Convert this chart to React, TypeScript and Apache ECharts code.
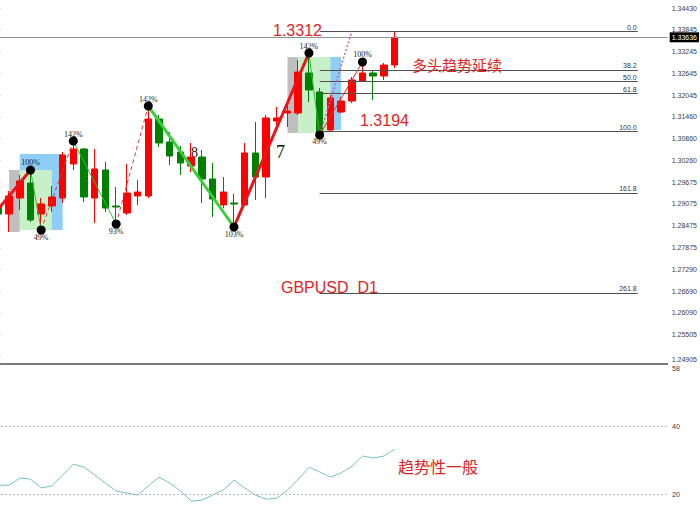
import React, { useEffect, useRef } from "react";
import * as echarts from "echarts";

// ---------- data ----------
const priceTicks = [1.24905, 1.25505, 1.2609, 1.2669, 1.2729, 1.27875, 1.28475, 1.29075, 1.29675, 1.3026, 1.3086, 1.3146, 1.32045, 1.32645, 1.33245, 1.33845, 1.3443];
const adxTicks = [20, 40, 58];
const adxGuides = [20, 40];
const lastPrice = 1.33636;

const candleOpen = [1.29018, 1.28799, 1.29237, 1.29648, 1.28799, 1.29018, 1.29237, 1.30168, 1.30578, 1.29237, 1.30004, 1.29018, 1.28827, 1.29292, 1.29292, 1.31399, 1.3077, 1.30496, 1.30113, 1.30359, 1.29757, 1.29046, 1.291, 1.29046, 1.30469, 1.29812, 1.31344, 1.31564, 1.31564, 1.32659, 1.32139, 1.31099, 1.31591, 1.31892, 1.3244, 1.32659, 1.32577, 1.32878];
const candleClose = [1.28799, 1.29292, 1.29703, 1.28635, 1.29073, 1.29264, 1.30414, 1.30578, 1.29264, 1.30031, 1.28963, 1.28991, 1.29374, 1.29401, 1.31399, 1.30743, 1.30387, 1.30195, 1.30359, 1.29757, 1.2921, 1.29401, 1.29073, 1.30469, 1.29812, 1.31427, 1.31427, 1.31619, 1.32686, 1.32194, 1.31016, 1.31974, 1.31892, 1.32467, 1.32659, 1.32577, 1.32878, 1.33636];
const candleLow = [1.2869, 1.28306, 1.28909, 1.2858, 1.28361, 1.28854, 1.291, 1.30004, 1.29128, 1.28553, 1.28854, 1.28525, 1.28772, 1.29046, 1.29237, 1.30633, 1.3014, 1.29867, 1.29949, 1.291, 1.28717, 1.28963, 1.28443, 1.29018, 1.29182, 1.29237, 1.31099, 1.31181, 1.31509, 1.31865, 1.30962, 1.31071, 1.31564, 1.31837, 1.32412, 1.3192, 1.32467, 1.32796];
const candleHigh = [1.29237, 1.29429, 1.29867, 1.30004, 1.29237, 1.29566, 1.30496, 1.30797, 1.30606, 1.30578, 1.30222, 1.29538, 1.30168, 1.2973, 1.31755, 1.31509, 1.31044, 1.30661, 1.30743, 1.30551, 1.30195, 1.29812, 1.29347, 1.30743, 1.31318, 1.31509, 1.31728, 1.31783, 1.33015, 1.33206, 1.32248, 1.32057, 1.32002, 1.32549, 1.3296, 1.32741, 1.32933, 1.33809];

const adxValues = [22.6, 22.6, 24.7, 24.4, 21.8, 22.4, 25.6, 28.8, 27.9, 25.6, 23.2, 20.9, 20.3, 19.7, 22.4, 25.0, 23.2, 20.9, 17.9, 18.2, 19.7, 21.2, 24.1, 21.8, 19.7, 18.5, 18.8, 21.2, 24.4, 27.9, 26.5, 25.0, 26.2, 28.2, 31.2, 30.6, 31.2, 33.2];

// zigzag pivots
const zigStart = [0, 1.28936];
const pivotIndex = [3, 4, 7, 11, 14, 22, 29, 30, 34];
const pivotPrice = [1.30004, 1.28361, 1.30797, 1.28525, 1.31755, 1.28443, 1.33206, 1.30962, 1.3296];
const pivotLabel = ["100%", "49%", "142%", "93%", "142%", "103%", "142%", "49%", "100%"];
const pivotAbove = [true, false, true, false, true, false, true, false, true];
const legStyle = ["thickRed", "thinGreen", "dashRed", "thinGreen", "dashRed", "thickGreen", "thickRed", "thinGreen", "thinRed"];
const projectionEnd = [33, 1.33789];

// fibonacci
const fibHigh = 1.33789;
const fibLow = 1.31052;
const fibLevels = [0, 38.2, 50, 61.8, 100, 161.8, 261.8];
const fibLabels = ["0.0", "38.2", "50.0", "61.8", "100.0", "161.8", "261.8"];
const fibFrom = 30;
const fibTo = 59.7;

// pattern boxes
const boxX0 = [1, 2, 2, 27, 28, 31];
const boxX1 = [2, 6, 5, 28, 31, 32];
const boxTop = [1.30004, 1.30441, 1.30004, 1.33097, 1.33097, 1.33097];
const boxBottom = [1.28306, 1.28361, 1.28361, 1.31016, 1.31016, 1.31099];
const boxKind = ["gray", "blue", "green", "gray", "green", "blue"];

const CAT_COUNT = 63;
const SHIFT = 7; // chart canvas starts 7px left of the page

const styleMap: Record<string, any> = {
  thickRed: { color: "#e8141c", width: 3, type: "solid" },
  thickGreen: { color: "#36d136", width: 3, type: "solid" },
  thinGreen: { color: "#33bb33", width: 1, type: "solid" },
  thinRed: { color: "#dd3030", width: 1, type: "solid" },
  dashRed: { color: "#c84040", width: 1, type: [4, 3] },
  dotted: { color: "#c060b8", width: 1.5, type: [2, 2] },
};
const boxColor: Record<string, string> = {
  gray: "#bfbfbf",
  blue: "#8ecdf5",
  green: "#c8f0c8",
};

export default function App() {
  const ref = useRef<HTMLDivElement>(null);
  useEffect(() => {
    document.body.style.margin = "0";
    const chart = echarts.init(ref.current!, null, { renderer: "svg" });
    const cats = Array.from({ length: CAT_COUNT }, (_, i) => String(i));
    const candleData = candleOpen.map((o, i) => [o, candleClose[i], candleLow[i], candleHigh[i]]);

    const pts: number[][] = [zigStart, ...pivotIndex.map((x, i) => [x, pivotPrice[i]])];
    const legs: any[] = [];
    for (let i = 0; i < legStyle.length; i++) {
      legs.push([
        { coord: pts[i], lineStyle: styleMap[legStyle[i]] },
        { coord: pts[i + 1] },
      ]);
    }
    legs.push([
      { coord: [pivotIndex[7], pivotPrice[7]], lineStyle: styleMap.dotted },
      { coord: projectionEnd },
    ]);

    const fibData = fibLevels.map((lv, i) => {
      const p = fibHigh - (lv / 100) * (fibHigh - fibLow);
      return [
        {
          coord: [fibFrom, p],
          label: { show: true, formatter: fibLabels[i] },
        },
        { coord: [fibTo, p] },
      ];
    });

    const boxes = boxKind.map((k, i) => [
      { coord: [boxX0[i], boxTop[i]], itemStyle: { color: boxColor[k], opacity: 1 } },
      { coord: [boxX1[i], boxBottom[i]] },
    ]);

    const markerData = pivotIndex.map((x, i) => ({
      value: [x, pivotPrice[i]],
      label: {
        show: true,
        formatter: pivotLabel[i],
        position: "inside",
        offset: [0, pivotAbove[i] ? -7 : 7],
      },
    }));

    const latin = "'Liberation Sans', Arial, sans-serif";
    const cjk = "'Noto Sans CJK SC', sans-serif";
    const serif = "'Liberation Serif', 'DejaVu Serif', serif";
    const red = "#e02424";
    const X = (x: number) => x + SHIFT;

    const option: any = {
      animation: false,
      backgroundColor: "#ffffff",
      grid: [
        { left: 0, top: 0, width: 675, height: 364 },
        { left: 0, top: 365, width: 675, height: 158 },
      ],
      xAxis: [
        { type: "category", gridIndex: 0, data: cats, boundaryGap: true, show: false },
        { type: "value", gridIndex: 0, min: -0.5, max: CAT_COUNT - 0.5, show: false },
        { type: "value", gridIndex: 1, min: -0.5, max: CAT_COUNT - 0.5, show: false },
      ],
      yAxis: [
        {
          type: "value",
          gridIndex: 0,
          position: "right",
          min: 1.246928,
          max: 1.346572,
          splitLine: { show: false },
          axisLine: { show: true, lineStyle: { color: "#808080", width: 2 } },
          axisTick: { show: true, length: 2, customValues: priceTicks, lineStyle: { color: "#808080" } },
          axisLabel: {
            customValues: priceTicks,
            formatter: (v: number) => v.toFixed(5),
            fontSize: 7,
            fontFamily: latin,
            color: "#404040",
            margin: 4,
            verticalAlignMinLabel: "top",
          },
        },
        {
          type: "value",
          gridIndex: 1,
          position: "right",
          min: 11.47,
          max: 58,
          splitLine: { show: false },
          axisLine: { show: true, lineStyle: { color: "#808080", width: 2 } },
          axisTick: { show: true, length: 2, customValues: adxTicks, lineStyle: { color: "#808080" } },
          axisLabel: {
            customValues: adxTicks,
            formatter: (v: number) => String(v),
            fontSize: 7,
            fontFamily: latin,
            color: "#404040",
            margin: 4,
            verticalAlignMaxLabel: "top",
          },
        },
      ],
      series: [
        {
          type: "line",
          name: "boxes",
          xAxisIndex: 1,
          yAxisIndex: 0,
          data: [],
          z: 1,
          silent: true,
          markArea: { silent: true, data: boxes },
        },
        {
          type: "line",
          name: "priceLine",
          xAxisIndex: 1,
          yAxisIndex: 0,
          data: [],
          z: 2,
          silent: true,
          markLine: {
            silent: true,
            symbol: ["none", "none"],
            lineStyle: { color: "#909090", width: 1, type: "solid" },
            label: {
              show: true,
              position: "end",
              formatter: lastPrice.toFixed(5),
              backgroundColor: "#000000",
              color: "#ffffff",
              fontSize: 7,
              fontFamily: latin,
              padding: [2, 2, 1, 2],
              distance: 2,
            },
            data: [[{ coord: [-0.5, lastPrice] }, { coord: [CAT_COUNT - 0.5, lastPrice] }]],
          },
        },
        {
          type: "candlestick",
          xAxisIndex: 0,
          yAxisIndex: 0,
          data: candleData,
          barWidth: 7,
          z: 3,
          itemStyle: {
            color: "#ff0000",
            color0: "#008000",
            borderColor: "#ff0000",
            borderColor0: "#008000",
            borderWidth: 1,
          },
        },
        {
          type: "line",
          name: "fib",
          xAxisIndex: 1,
          yAxisIndex: 0,
          data: [],
          z: 4,
          silent: true,
          markLine: {
            silent: true,
            symbol: ["none", "none"],
            lineStyle: { color: "#505050", width: 1, type: "solid" },
            label: {
              show: true,
              position: "insideEndTop",
              fontSize: 7,
              fontFamily: latin,
              color: "#333333",
              distance: 1,
            },
            data: fibData,
          },
        },
        {
          type: "line",
          name: "zigzag",
          xAxisIndex: 1,
          yAxisIndex: 0,
          data: [],
          z: 5,
          silent: true,
          markLine: {
            silent: true,
            symbol: ["none", "none"],
            label: { show: false },
            data: legs,
          },
        },
        {
          type: "scatter",
          xAxisIndex: 1,
          yAxisIndex: 0,
          data: markerData,
          symbolSize: 9,
          z: 6,
          itemStyle: { color: "#000000", opacity: 1 },
          label: { fontSize: 8, fontFamily: serif, color: "#222222" },
        },
        {
          type: "line",
          xAxisIndex: 2,
          yAxisIndex: 1,
          data: adxValues.map((v, i) => [i, v]),
          showSymbol: false,
          lineStyle: { color: "#74c2c2", width: 1 },
          z: 3,
          markLine: {
            silent: true,
            symbol: ["none", "none"],
            label: { show: false },
            lineStyle: { color: "#b8b8b8", width: 1, type: [2, 2] },
            data: adxGuides.map((g) => ({ yAxis: g })),
          },
        },
      ],
      graphic: [
        { type: "rect", shape: { x: X(0), y: 363, width: 668, height: 2 }, style: { fill: "#7a7a7a" }, z: 10 },
        { type: "text", style: { text: "1.3312", x: X(273), y: 30, fill: red, fontSize: 16, fontFamily: latin, textVerticalAlign: "middle" }, z: 10 },
        { type: "text", style: { text: "多头趋势延续", x: X(412), y: 64, fill: red, fontSize: 15, fontFamily: cjk, textVerticalAlign: "middle" }, z: 10 },
        { type: "text", style: { text: "1.3194", x: X(360), y: 120, fill: red, fontSize: 16, fontFamily: latin, textVerticalAlign: "middle" }, z: 10 },
        { type: "text", style: { text: "7", x: X(276), y: 152, fill: "#111111", fontSize: 18, fontFamily: serif, textVerticalAlign: "middle" }, z: 10 },
        { type: "text", style: { text: "8", x: X(191), y: 152, fill: "#111111", fontSize: 14, fontFamily: serif, textVerticalAlign: "middle" }, z: 2 },
        { type: "text", style: { text: "GBPUSD  D1", x: X(281), y: 287, fill: red, fontSize: 16, fontFamily: latin, textVerticalAlign: "middle" }, z: 10 },
        { type: "text", style: { text: "趋势性一般", x: X(398), y: 466, fill: red, fontSize: 16, fontFamily: cjk, textVerticalAlign: "middle" }, z: 10 },
      ],
    };
    chart.setOption(option);
    return () => chart.dispose();
  }, []);
  return (
    <div
      ref={ref}
      style={{ position: "absolute", left: -SHIFT, top: 0, width: 700 + SHIFT, height: 523, background: "#ffffff" }}
    />
  );
}
